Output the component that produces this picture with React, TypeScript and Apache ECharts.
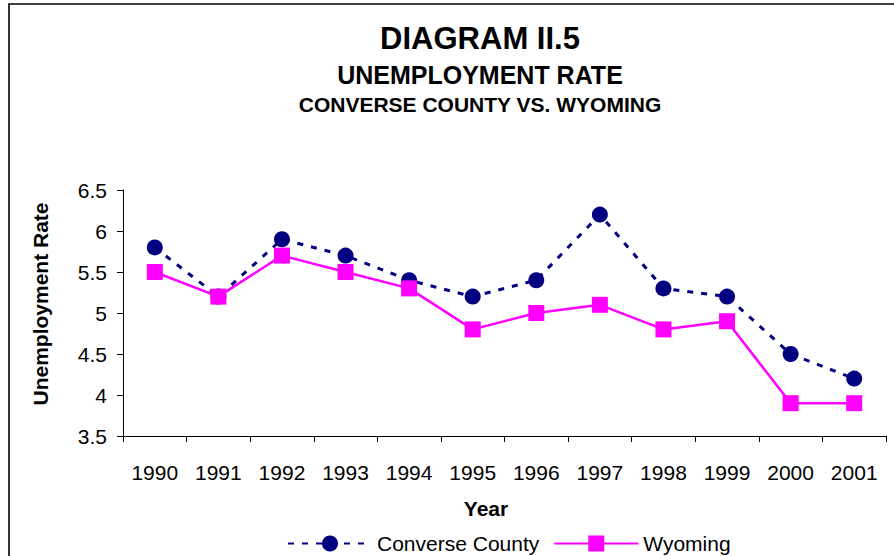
import React, { useEffect, useRef } from "react";
import * as echarts from "echarts";

const years = ["1990", "1991", "1992", "1993", "1994", "1995", "1996", "1997", "1998", "1999", "2000", "2001"];
const converseCounty = [5.8, 5.2, 5.9, 5.7, 5.4, 5.2, 5.4, 6.2, 5.3, 5.2, 4.5, 4.2];
const wyoming = [5.5, 5.2, 5.7, 5.5, 5.3, 4.8, 5.0, 5.1, 4.8, 4.9, 3.9, 3.9];
const seriesNames = ["Converse County", "Wyoming"];
const titles = ["DIAGRAM II.5", "UNEMPLOYMENT RATE", "CONVERSE COUNTY VS. WYOMING"];
const yAxisTitle = "Unemployment Rate";
const xAxisTitle = "Year";

const FONT = "'Liberation Sans', Arial, sans-serif";

export default function App() {
  const ref = useRef<HTMLDivElement>(null);

  useEffect(() => {
    document.body.style.margin = "0";
    if (!ref.current) return;
    const chart = echarts.init(ref.current, null, { renderer: "svg" });
    chart.setOption({
      animation: false,
      backgroundColor: "#ffffff",
      textStyle: { fontFamily: FONT },
      graphic: [
        {
          type: "rect",
          shape: { x: 9, y: 4, width: 1000, height: 1000 },
          style: { fill: "none", stroke: "#000", lineWidth: 1.6 },
          silent: true,
        },
        {
          type: "text",
          x: 480,
          y: 38,
          style: { text: titles[0], fontSize: 31, fontWeight: "bold", fontFamily: FONT, fill: "#000", align: "center", verticalAlign: "middle" },
        },
        {
          type: "text",
          x: 480,
          y: 75,
          style: { text: titles[1], fontSize: 25, fontWeight: "bold", fontFamily: FONT, fill: "#000", align: "center", verticalAlign: "middle" },
        },
        {
          type: "text",
          x: 480,
          y: 104,
          style: { text: titles[2], fontSize: 21, fontWeight: "bold", fontFamily: FONT, fill: "#000", align: "center", verticalAlign: "middle" },
        },
        {
          type: "text",
          x: 40,
          y: 304,
          rotation: Math.PI / 2,
          style: { text: yAxisTitle, fontSize: 21, fontWeight: "bold", fontFamily: FONT, fill: "#000", align: "center", verticalAlign: "middle" },
        },
        {
          type: "text",
          x: 486,
          y: 508,
          style: { text: xAxisTitle, fontSize: 21, fontWeight: "bold", fontFamily: FONT, fill: "#000", align: "center", verticalAlign: "middle" },
        },
      ],
      grid: { left: 123, right: 8, top: 190, bottom: 120, containLabel: false },
      legend: {
        left: 282,
        top: 528,
        itemWidth: 84,
        itemHeight: 20,
        itemGap: 14,
        textStyle: { fontSize: 21, color: "#000", fontFamily: FONT },
        data: seriesNames,
      },
      xAxis: {
        type: "category",
        data: years,
        boundaryGap: true,
        axisLine: { show: true, lineStyle: { color: "#000", width: 1 } },
        axisTick: { show: true, length: 6, lineStyle: { color: "#000" } },
        axisLabel: { fontSize: 21, color: "#000", margin: 26, fontFamily: FONT, interval: 0 },
        splitLine: { show: false },
      },
      yAxis: {
        type: "value",
        min: 3.5,
        max: 6.5,
        interval: 0.5,
        axisLine: { show: true, lineStyle: { color: "#000", width: 1 } },
        axisTick: { show: true, length: 6, lineStyle: { color: "#000" } },
        axisLabel: { fontSize: 21, color: "#000", margin: 16, fontFamily: FONT },
        splitLine: { show: false },
      },
      series: [
        {
          name: seriesNames[0],
          type: "line",
          data: converseCounty,
          symbol: "circle",
          symbolSize: 16,
          itemStyle: { color: "#000080" },
          lineStyle: { color: "#000080", width: 3, type: [6, 8] },
        },
        {
          name: seriesNames[1],
          type: "line",
          data: wyoming,
          symbol: "rect",
          symbolSize: 16,
          itemStyle: { color: "#FF00FF" },
          lineStyle: { color: "#FF00FF", width: 2.5, type: "solid" },
        },
      ],
    });
    return () => chart.dispose();
  }, []);

  return <div ref={ref} style={{ width: 894, height: 556 }} />;
}
